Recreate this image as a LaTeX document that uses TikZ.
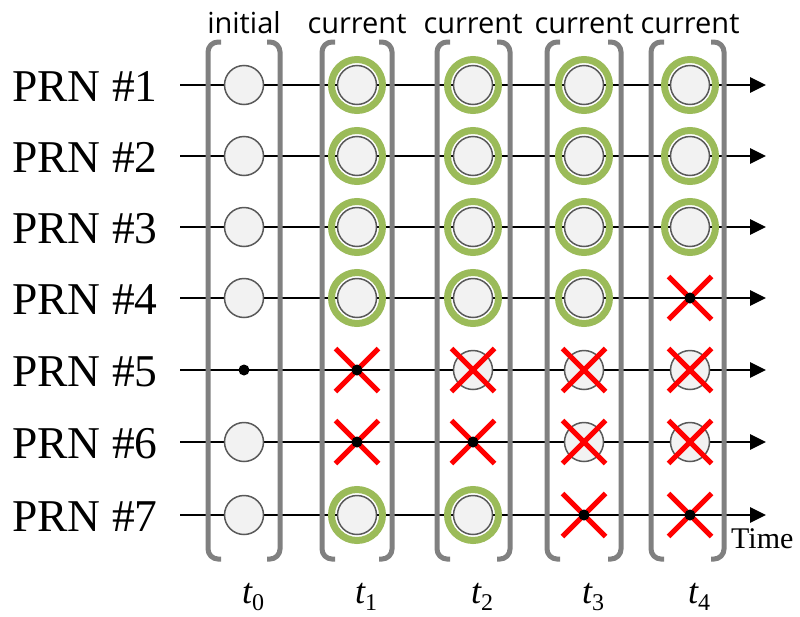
\documentclass[tikz,border=0pt]{standalone}
\usepackage{fontspec}
\setmainfont{Liberation Serif}
\newfontfamily\headsans{Open Sans}
\usetikzlibrary{arrows.meta,shapes.misc}

\definecolor{ringgreen}{HTML}{9BBB59}
\definecolor{bracketgray}{HTML}{808080}
\definecolor{satfill}{HTML}{F2F2F2}
\definecolor{satedge}{HTML}{595959}
\definecolor{xred}{HTML}{FF0000}

\tikzset{
  timeline/.style={line width=2.7pt, -{Triangle[length=16pt 0 0,width=15pt 0 0]}},
  sat/.style={circle, draw=satedge, fill=satfill, line width=1.5pt,
              minimum size=39pt, inner sep=0pt},
  ringed/.style={circle, draw=ringgreen, line width=7pt,
                 minimum size=51pt, inner sep=0pt},
  lostdot/.style={circle, fill=black, minimum size=11pt, inner sep=0pt},
  crossmark/.style={cross out, draw=xred, line width=5pt,
                    minimum size=38pt, inner sep=0pt},
  bracketline/.style={draw=bracketgray, line width=5pt, rounded corners=10pt},
  prnlabel/.style={anchor=base west, inner sep=0pt, font=\fontsize{45.5}{50}\selectfont},
  headlabel/.style={anchor=base, inner sep=0pt, font=\headsans\fontsize{29}{32}\selectfont},
  tlabel/.style={anchor=base west, inner sep=0pt, font=\fontsize{36}{40}\selectfont},
}

% draws the state of one satellite at one epoch
\newcommand{\plainsat}[2]{\node[sat] (#1) at #2 {};}
\newcommand{\goodsat}[2]{\node[ringed] (#1r) at #2 {}; \node[sat] (#1) at #2 {};}
\newcommand{\faultsat}[2]{\node[sat] (#1) at #2 {}; \node[crossmark] (#1x) at #2 {};}
\newcommand{\lostsat}[2]{\node[crossmark] (#1x) at #2 {}; \node[lostdot] (#1) at #2 {};}
\newcommand{\dotsat}[2]{\node[lostdot] (#1) at #2 {};}

\begin{document}
\begin{tikzpicture}[x=1pt,y=-1pt]
\useasboundingbox (0,0) rectangle (800,616);

% rows (y) and columns (x)
\def\ya{85}\def\yb{156}\def\yc{227}\def\yd{298}\def\ye{370}\def\yf{442}\def\yg{515}
\def\xa{244}\def\xb{357}\def\xc{473}\def\xd{584}\def\xe{690}

% PRN labels and time lines
\foreach \i/\y in {1/\ya,2/\yb,3/\yc,4/\yd,5/\ye,6/\yf,7/\yg}{
  \node[prnlabel] (prn\i) at (12,\y+16) {PRN \#\i};
  \coordinate (ls\i) at (180,\y);
  \coordinate (le\i) at (766,\y);
  \draw[timeline] (ls\i) -- (le\i);
}

% brackets around each epoch
\foreach \l/\r in {208/280, 322/392, 437/510, 547/621, 651/724}{
  \draw[bracketline] (\l+13,42) -- (\l,42) -- (\l,559) -- (\l+13,559);
  \draw[bracketline] (\r-13,42) -- (\r,42) -- (\r,559) -- (\r-13,559);
}

% epoch headings
\node[headlabel] (h0) at (\xa,33) {initial};
\node[headlabel] (h1) at (\xb,33) {current};
\node[headlabel] (h2) at (\xc,33) {current};
\node[headlabel] (h3) at (\xd,33) {current};
\node[headlabel] (h4) at (\xe,33) {current};

% epoch t0
\plainsat{a1}{(\xa,\ya)}
\plainsat{a2}{(\xa,\yb)}
\plainsat{a3}{(\xa,\yc)}
\plainsat{a4}{(\xa,\yd)}
\dotsat{a5}{(\xa,\ye)}
\plainsat{a6}{(\xa,\yf)}
\plainsat{a7}{(\xa,\yg)}

% epoch t1
\goodsat{b1}{(\xb,\ya)}
\goodsat{b2}{(\xb,\yb)}
\goodsat{b3}{(\xb,\yc)}
\goodsat{b4}{(\xb,\yd)}
\lostsat{b5}{(\xb,\ye)}
\lostsat{b6}{(\xb,\yf)}
\goodsat{b7}{(\xb,\yg)}

% epoch t2
\goodsat{c1}{(\xc,\ya)}
\goodsat{c2}{(\xc,\yb)}
\goodsat{c3}{(\xc,\yc)}
\goodsat{c4}{(\xc,\yd)}
\faultsat{c5}{(\xc,\ye)}
\lostsat{c6}{(\xc,\yf)}
\goodsat{c7}{(\xc,\yg)}

% epoch t3
\goodsat{d1}{(\xd,\ya)}
\goodsat{d2}{(\xd,\yb)}
\goodsat{d3}{(\xd,\yc)}
\goodsat{d4}{(\xd,\yd)}
\faultsat{d5}{(\xd,\ye)}
\faultsat{d6}{(\xd,\yf)}
\lostsat{d7}{(\xd,\yg)}

% epoch t4
\goodsat{e1}{(\xe,\ya)}
\goodsat{e2}{(\xe,\yb)}
\goodsat{e3}{(\xe,\yc)}
\lostsat{e4}{(\xe,\yd)}
\faultsat{e5}{(\xe,\ye)}
\faultsat{e6}{(\xe,\yf)}
\lostsat{e7}{(\xe,\yg)}

% time axis label and epoch names
\node[anchor=base west, inner sep=0pt, font=\fontsize{30}{34}\selectfont] (timelbl) at (731,548) {Time};
\foreach \n/\x in {0/\xa,1/\xb,2/\xc,3/\xd,4/\xe}{
  \node[tlabel] (t\n) at (\x-2,603) {\itshape t\raisebox{-7pt}{\upshape\fontsize{24}{26}\selectfont\n}};
}
\end{tikzpicture}
\end{document}
